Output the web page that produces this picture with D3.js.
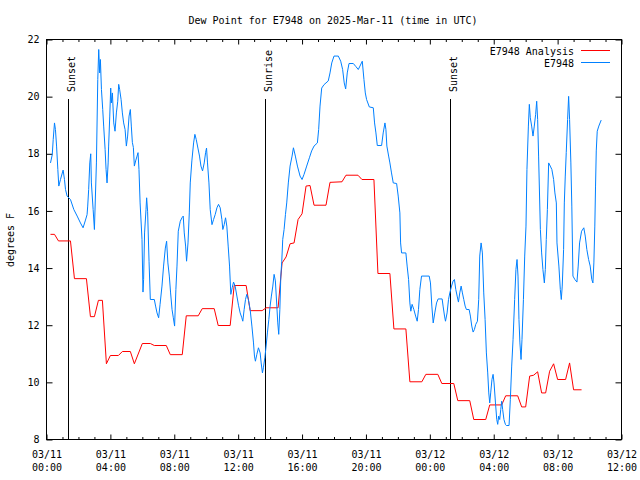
<!DOCTYPE html>
<html>
<head>
<meta charset="utf-8">
<script src="https://cdn.jsdelivr.net/npm/d3@7"></script>
<style>
  html, body { margin: 0; padding: 0; background: #fff; }
  svg text { font-family: "DejaVu Sans Mono", monospace; font-size: 10px; fill: #000; }
</style>
</head>
<body>
<svg id="chart" width="640" height="480"></svg>
<script>
// ---- data (time = hours since 2025-03-11 00:00 UTC) ----
const titleText = "Dew Point for E7948 on 2025-Mar-11 (time in UTC)";
const yLabelText = "degrees F";
const seriesNames = ["E7948 Analysis", "E7948"];
const xTickHours = [0, 4, 8, 12, 16, 20, 24, 28, 32, 36];
const xTickDates = ["03/11", "03/11", "03/11", "03/11", "03/11", "03/11", "03/12", "03/12", "03/12", "03/12"];
const xTickTimes = ["00:00", "04:00", "08:00", "12:00", "16:00", "20:00", "00:00", "04:00", "08:00", "12:00"];
const yTicks = [8, 10, 12, 14, 16, 18, 20, 22];
const sunEvents = [
  { name: "Sunset", hour: 1.33 },
  { name: "Sunrise", hour: 13.71 },
  { name: "Sunset", hour: 25.29 }
];

const analysis = [
  [0.25,15.18],[0.5,15.18],[0.75,14.95],[1.5,14.95],[1.75,13.63],[2.5,13.63],[2.75,12.3],[3.0,12.3],
  [3.25,12.87],[3.5,12.87],[3.75,10.65],[4.0,10.94],[4.5,10.94],[4.75,11.08],[5.25,11.08],[5.5,10.65],
  [6.0,11.36],[6.5,11.36],[6.75,11.29],[7.5,11.29],[7.75,10.97],[8.5,10.97],[8.75,12.33],[9.5,12.33],
  [9.75,12.58],[10.5,12.58],[10.75,11.99],[11.5,11.99],[11.75,13.39],[12.5,13.39],[12.75,12.51],[13.5,12.51],
  [13.75,12.61],[14.5,12.61],[14.75,14.18],[15.0,14.39],[15.25,14.85],[15.5,14.88],[15.75,15.7],[16.0,15.9],
  [16.25,16.87],[16.5,16.89],[16.75,16.2],[17.5,16.2],[17.75,17.0],[18.5,17.02],[18.75,17.25],[19.5,17.25],
  [19.75,17.1],[20.5,17.1],[20.75,13.81],[21.5,13.81],[21.75,11.87],[22.5,11.87],[22.75,10.02],[23.5,10.02],
  [23.75,10.28],[24.5,10.28],[24.75,9.96],[25.5,9.96],[25.75,9.36],[26.5,9.36],[26.75,8.7],[27.5,8.7],
  [27.75,9.21],[28.5,9.21],[28.75,9.53],[29.5,9.53],[29.75,9.14],[30.0,9.14],[30.25,10.22],[30.5,10.25],
  [30.75,10.37],[31.0,9.63],[31.25,9.63],[31.5,10.39],[31.75,10.65],[32.0,10.1],[32.5,10.1],[32.75,10.68],
  [33.0,9.74],[33.5,9.74]
];

const observed = [
  [0.25,17.68],[0.36,17.97],[0.42,18.5],[0.5,19.08],[0.56,18.85],[0.63,18.27],[0.71,17.45],[0.77,16.87],
  [0.875,17.1],[1.04,17.43],[1.125,17.1],[1.19,16.75],[1.29,16.52],[1.5,16.4],[1.71,16.05],[1.92,15.82],
  [2.125,15.58],[2.29,15.41],[2.44,15.68],[2.54,15.87],[2.58,16.17],[2.64,16.75],[2.71,17.68],[2.77,18.0],
  [2.81,16.98],[2.92,16.05],[3.0,15.35],[3.125,17.68],[3.21,20.6],[3.27,21.65],[3.33,20.83],[3.375,21.3],
  [3.44,20.25],[3.52,19.55],[3.58,18.97],[3.67,18.15],[3.73,17.45],[3.79,16.98],[3.86,17.68],[3.89,18.27],
  [3.96,19.32],[4.02,20.3],[4.06,19.78],[4.125,20.13],[4.21,19.08],[4.29,18.79],[4.375,19.43],[4.46,19.84],
  [4.52,20.43],[4.58,20.25],[4.67,19.9],[4.75,19.43],[4.83,19.08],[4.92,18.85],[5.0,18.27],[5.08,18.62],
  [5.17,19.32],[5.25,19.55],[5.31,18.97],[5.375,18.4],[5.44,18.22],[5.5,17.57],[5.58,17.75],[5.67,17.92],
  [5.73,18.04],[5.79,17.45],[5.86,16.28],[5.98,15.0],[6.04,13.16],[6.08,13.6],[6.14,15.23],[6.23,16.05],
  [6.27,16.46],[6.33,15.99],[6.42,14.24],[6.5,12.9],[6.75,12.9],[6.83,12.67],[6.92,12.43],[7.02,12.26],
  [7.11,12.73],[7.23,13.37],[7.33,14.07],[7.44,14.7],[7.52,14.94],[7.6,14.18],[7.69,13.72],[7.77,13.13],
  [7.86,12.55],[7.94,12.26],[8.02,11.97],[8.1,13.25],[8.17,14.07],[8.25,15.29],[8.375,15.64],[8.48,15.76],
  [8.56,15.82],[8.625,15.23],[8.71,14.77],[8.77,14.24],[8.86,14.88],[8.94,15.93],[9.0,16.98],[9.1,17.75],
  [9.21,18.38],[9.29,18.68],[9.375,18.5],[9.48,18.2],[9.58,17.92],[9.67,17.57],[9.77,17.4],[9.875,17.68],
  [9.96,18.04],[10.02,18.2],[10.08,17.68],[10.17,16.98],[10.25,16.05],[10.36,15.52],[10.46,15.7],[10.56,15.87],
  [10.67,16.11],[10.77,16.23],[10.875,16.11],[10.98,15.7],[11.04,15.35],[11.125,15.52],[11.21,15.76],[11.29,15.47],
  [11.375,14.77],[11.46,14.07],[11.54,13.08],[11.625,13.31],[11.71,13.51],[11.81,13.37],[11.92,13.02],[12.02,12.7],
  [12.125,12.43],[12.23,12.26],[12.29,12.14],[12.375,12.55],[12.46,12.9],[12.54,13.08],[12.64,12.9],[12.75,12.55],
  [12.86,11.97],[12.96,11.38],[13.02,10.92],[13.08,10.74],[13.17,10.98],[13.27,11.21],[13.375,11.03],[13.44,10.68],
  [13.52,10.33],[13.58,10.51],[13.67,10.86],[13.75,11.27],[13.83,11.73],[13.92,12.2],[14.0,12.67],[14.08,13.02],
  [14.17,13.37],[14.25,13.78],[14.33,13.55],[14.42,12.67],[14.48,12.08],[14.54,11.68],[14.61,12.55],[14.67,13.72],
  [14.73,14.24],[14.79,15.0],[14.875,15.35],[14.96,15.87],[15.04,16.28],[15.14,16.98],[15.25,17.57],[15.375,17.92],
  [15.46,18.21],[15.58,17.92],[15.71,17.57],[15.875,17.22],[16.0,17.1],[16.125,17.28],[16.29,17.57],[16.46,17.86],
  [16.6,18.1],[16.75,18.27],[16.96,18.38],[17.04,18.85],[17.125,19.67],[17.23,20.3],[17.375,20.42],[17.64,20.55],
  [17.75,20.83],[17.86,21.18],[18.0,21.42],[18.27,21.42],[18.42,21.24],[18.54,20.95],[18.64,20.48],[18.73,20.27],
  [18.83,20.83],[18.94,21.16],[19.21,21.16],[19.375,21.05],[19.52,20.95],[19.625,21.07],[19.77,21.24],[19.875,20.6],
  [19.96,20.13],[20.04,19.9],[20.21,19.64],[20.46,19.61],[20.54,19.08],[20.625,18.73],[20.71,18.29],[20.98,18.29],
  [21.08,18.73],[21.19,19.08],[21.25,18.85],[21.31,18.27],[21.42,17.92],[21.5,17.68],[21.6,17.33],[21.71,16.98],
  [21.92,16.96],[22.02,16.52],[22.125,15.93],[22.17,14.88],[22.23,14.53],[22.5,14.53],[22.58,14.07],[22.67,13.6],
  [22.75,12.78],[22.81,12.49],[22.89,12.73],[23.0,12.55],[23.11,12.32],[23.21,12.14],[23.29,12.55],[23.375,13.25],
  [23.48,13.72],[23.96,13.72],[24.04,13.48],[24.125,12.67],[24.21,12.08],[24.31,12.43],[24.42,12.78],[24.52,12.92],
  [24.77,12.92],[24.83,12.67],[24.92,12.32],[24.98,12.14],[25.08,12.43],[25.17,12.9],[25.25,13.13],[25.36,13.37],
  [25.46,13.55],[25.54,13.6],[25.625,13.25],[25.71,13.02],[25.79,12.81],[25.875,13.13],[25.96,13.37],[26.04,13.13],
  [26.125,12.9],[26.21,12.67],[26.29,12.55],[26.46,12.55],[26.54,12.32],[26.625,11.97],[26.71,11.76],[26.79,11.85],
  [26.875,12.03],[26.98,12.14],[27.06,12.9],[27.125,14.42],[27.21,14.88],[27.29,14.53],[27.375,13.13],[27.46,12.2],
  [27.54,11.03],[27.625,10.33],[27.69,9.63],[27.75,9.28],[27.81,9.63],[27.89,10.1],[27.96,10.28],[28.02,9.98],
  [28.11,9.28],[28.19,8.7],[28.25,8.53],[28.31,8.82],[28.375,8.7],[28.44,9.05],[28.5,9.34],[28.56,9.05],
  [28.64,8.7],[28.73,8.53],[28.79,8.49],[28.96,8.49],[29.04,9.4],[29.125,10.57],[29.21,11.5],[29.31,12.9],
  [29.39,13.95],[29.46,14.3],[29.52,13.72],[29.58,12.2],[29.64,11.38],[29.71,10.8],[29.77,11.5],[29.86,12.9],
  [29.94,14.42],[30.02,15.47],[30.08,17.45],[30.17,18.97],[30.23,19.73],[30.29,19.26],[30.375,18.97],[30.46,18.62],
  [30.54,18.97],[30.625,19.38],[30.69,19.84],[30.75,19.2],[30.81,17.92],[30.92,15.35],[31.0,14.53],[31.08,13.95],
  [31.17,13.48],[31.23,13.95],[31.29,15.0],[31.36,16.05],[31.44,17.68],[31.54,17.57],[31.64,17.45],[31.75,17.1],
  [31.83,16.63],[31.92,16.28],[31.96,14.88],[32.08,14.07],[32.17,13.25],[32.23,12.9],[32.29,13.37],[32.375,14.65],
  [32.42,16.28],[32.48,17.22],[32.54,18.04],[32.625,19.2],[32.69,20.01],[32.75,19.2],[32.83,17.68],[32.89,16.17],
  [32.96,13.72],[33.08,13.6],[33.21,13.51],[33.29,14.07],[33.375,14.88],[33.5,15.29],[33.64,15.41],[33.73,15.12],
  [33.83,14.65],[33.94,14.3],[34.04,14.07],[34.14,13.6],[34.21,13.48],[34.27,14.18],[34.33,15.47],[34.375,16.87],
  [34.42,18.1],[34.48,18.79],[34.58,18.97],[34.73,19.18]
];

const seriesColors = ["#ff0000", "#0080ff"];

// ---- layout ----
const svg = d3.select("#chart");
const L = 46.5, R = 621.5, T = 39.5, B = 439.5;

const x = d3.scaleLinear().domain([0, 36]).range([L, R]);
const y = d3.scaleLinear().domain([8, 22]).range([B, T]);

// minor ticks every hour
const minorHours = d3.range(0, 37).filter(h => h % 4 !== 0);

// bottom axis (major with labels)
const gB = svg.append("g").attr("transform", `translate(0,${B})`)
  .call(d3.axisBottom(x).tickValues(xTickHours).tickSizeInner(-5).tickSizeOuter(0)
    .tickFormat((d, i) => xTickDates[i]));
gB.select(".domain").remove();
gB.selectAll(".tick text").each(function(d, i) {
  const t = d3.select(this);
  t.text(null).attr("y", 0).attr("dy", null);
  t.append("tspan").attr("x", 0).attr("y", 18.5).text(xTickDates[i]);
  t.append("tspan").attr("x", 0).attr("y", 31).text(xTickTimes[i]);
});
svg.append("g").attr("transform", `translate(0,${B})`)
  .call(d3.axisBottom(x).tickValues(minorHours).tickSizeInner(-2.5).tickSizeOuter(0).tickFormat(""))
  .select(".domain").remove();

// top axis (mirror)
const gT = svg.append("g").attr("transform", `translate(0,${T})`)
  .call(d3.axisTop(x).tickValues(xTickHours).tickSizeInner(-5).tickSizeOuter(0).tickFormat(""));
gT.select(".domain").remove();
svg.append("g").attr("transform", `translate(0,${T})`)
  .call(d3.axisTop(x).tickValues(minorHours).tickSizeInner(-2.5).tickSizeOuter(0).tickFormat(""))
  .select(".domain").remove();

// left axis
const gL = svg.append("g").attr("transform", `translate(${L},0)`)
  .call(d3.axisLeft(y).tickValues(yTicks).tickSizeInner(-6).tickSizeOuter(0).tickPadding(7).tickFormat(d3.format("d")));
gL.select(".domain").remove();

// right axis
svg.append("g").attr("transform", `translate(${R},0)`)
  .call(d3.axisRight(y).tickValues(yTicks).tickSizeInner(-6).tickSizeOuter(0).tickFormat(""))
  .select(".domain").remove();

svg.selectAll(".tick line").attr("stroke", "#000").attr("stroke-width", 1);
svg.selectAll(".tick text").style("font-family", "DejaVu Sans Mono, monospace").style("font-size", "10px");

// border
svg.append("rect").attr("x", L).attr("y", T).attr("width", R - L).attr("height", B - T)
  .attr("fill", "none").attr("stroke", "#000").attr("stroke-width", 1);

// sunrise / sunset markers
const sunG = svg.append("g");
sunEvents.forEach(ev => {
  const xx = Math.round(x(ev.hour)) + 0.5;
  sunG.append("line").attr("x1", xx).attr("x2", xx).attr("y1", 99).attr("y2", B)
    .attr("stroke", "#000").attr("stroke-width", 1);
  sunG.append("text").attr("transform", `translate(${xx + 6},92) rotate(-90)`)
    .attr("text-anchor", "start").text(ev.name);
});

// lines
const line = d3.line().x(d => x(d[0])).y(d => y(d[1]));
svg.append("path").datum(analysis).attr("d", line)
  .attr("fill", "none").attr("stroke", seriesColors[0]).attr("stroke-width", 1);
svg.append("path").datum(observed).attr("d", line)
  .attr("fill", "none").attr("stroke", seriesColors[1]).attr("stroke-width", 1);

// title
svg.append("text").attr("x", 333).attr("y", 24).attr("text-anchor", "middle").text(titleText);

// y label
svg.append("text").attr("transform", "translate(13.5,240) rotate(-90)")
  .attr("text-anchor", "middle").text(yLabelText);

// legend
const legG = svg.append("g");
seriesNames.forEach((name, i) => {
  const ly = 50.5 + i * 12;
  legG.append("text").attr("x", 574).attr("y", ly + 4.5).attr("text-anchor", "end").text(name);
  legG.append("line").attr("x1", 581).attr("x2", 610).attr("y1", ly).attr("y2", ly)
    .attr("stroke", seriesColors[i]).attr("stroke-width", 1);
});
</script>
</body>
</html>
